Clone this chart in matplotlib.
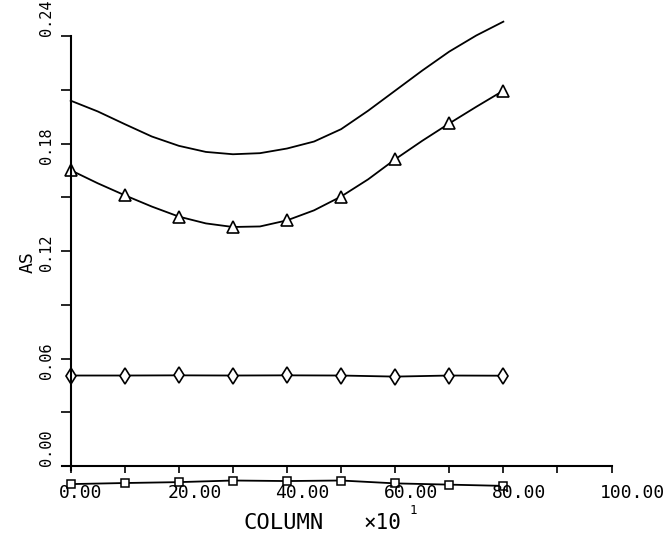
import matplotlib
matplotlib.use("Agg")
import matplotlib.pyplot as plt

# column positions, units of x10^1
col = [0, 10, 20, 30, 40, 50, 60, 70, 80]
col_fine = [0, 5, 10, 15, 20, 25, 30, 35, 40, 45, 50, 55, 60, 65, 70, 75, 80]

# AS values
upper_as = [0.2039, 0.1979, 0.1908, 0.1839, 0.1787, 0.1753, 0.1740, 0.1746, 0.1772,
            0.1811, 0.1880, 0.1983, 0.2095, 0.2207, 0.2313, 0.2403, 0.2480]
tri_as = [0.1651, 0.1578, 0.1511, 0.1448, 0.1392, 0.1354, 0.1334, 0.1337, 0.1371,
          0.1427, 0.1504, 0.1600, 0.1712, 0.1815, 0.1912, 0.2005, 0.2095]
diamond_as = [0.0505, 0.0505, 0.0506, 0.0505, 0.0506, 0.0505, 0.0499, 0.0505, 0.0504]
square_as = [-0.0101, -0.0095, -0.0090, -0.0081, -0.0084, -0.0081, -0.0097, -0.0104, -0.0111]

xticks = [0, 10, 20, 30, 40, 50, 60, 70, 80, 90, 100]
xtick_labels = ["0.00", "", "20.00", "", "40.00", "", "60.00", "", "80.00", "", "100.00"]
yticks = [0.0, 0.03, 0.06, 0.09, 0.12, 0.15, 0.18, 0.21, 0.24]
ytick_labels = ["0.00", "", "0.06", "", "0.12", "", "0.18", "", "0.24"]

W, H = 671, 536
fig = plt.figure(figsize=(W / 100, H / 100), dpi=100)
# axis origin at (70.7, 466) px, x=100 at 611.5 px, y=0.24 at 36 px
ax = fig.add_axes([70.7 / W, (H - 466) / H, (611.5 - 70.7) / W, 430 / H])
ax.set_xlim(0, 100)
ax.set_ylim(0, 0.24)

mono = "DejaVu Sans Mono"
lw = 1.3

ax.plot(col_fine, upper_as, color="k", lw=lw, clip_on=False)
ax.plot(col_fine, tri_as, color="k", lw=lw, marker="^", markevery=2, ms=8,
        mfc="white", mec="k", mew=1.2, clip_on=False)
ax.plot(col, diamond_as, color="k", lw=lw, marker="d", ms=8.5,
        mfc="white", mec="k", mew=1.2, clip_on=False)
ax.plot(col, square_as, color="k", lw=lw, marker="s", ms=5.5,
        mfc="white", mec="k", mew=1.1, clip_on=False)

for s in ["top", "right"]:
    ax.spines[s].set_visible(False)
ax.spines["left"].set_linewidth(1.5)
ax.spines["bottom"].set_linewidth(1.5)
ax.spines["bottom"].set_bounds(-1.7, 100)
ax.spines["left"].set_bounds(-0.002, 0.24)

ax.set_xticks(xticks)
ax.set_yticks(yticks)
ax.tick_params(axis="x", direction="out", length=5, width=1.2, labelbottom=False)
ax.tick_params(axis="y", direction="out", length=7, width=1.2, labelleft=False)

for x, lab in zip(xticks, xtick_labels):
    if lab:
        ax.annotate(lab, xy=(x, 0), xytext=(-11.5, -27.5), textcoords="offset pixels",
                    ha="left", va="center", family=mono, fontsize=13, annotation_clip=False)

for y, lab in zip(yticks, ytick_labels):
    if lab:
        dy = 18 if y in (0.0, 0.24) else -2
        ax.annotate(lab, xy=(0, y), xytext=(-24, dy), textcoords="offset pixels",
                    ha="center", va="center", rotation=90, family=mono, fontsize=11,
                    annotation_clip=False)

fig.text(284 / W, 1 - 523 / H, "COLUMN", ha="center", va="center", family=mono, fontsize=16)
fig.text(382 / W, 1 - 523 / H, "×10", ha="center", va="center", family=mono, fontsize=15)
fig.text(413 / W, 1 - 510 / H, "1", ha="center", va="center", family=mono, fontsize=9)
fig.text(28 / W, 1 - 262 / H, "AS", ha="center", va="center", rotation=90,
         family=mono, fontsize=13)

fig.savefig("out.png", dpi=100)
